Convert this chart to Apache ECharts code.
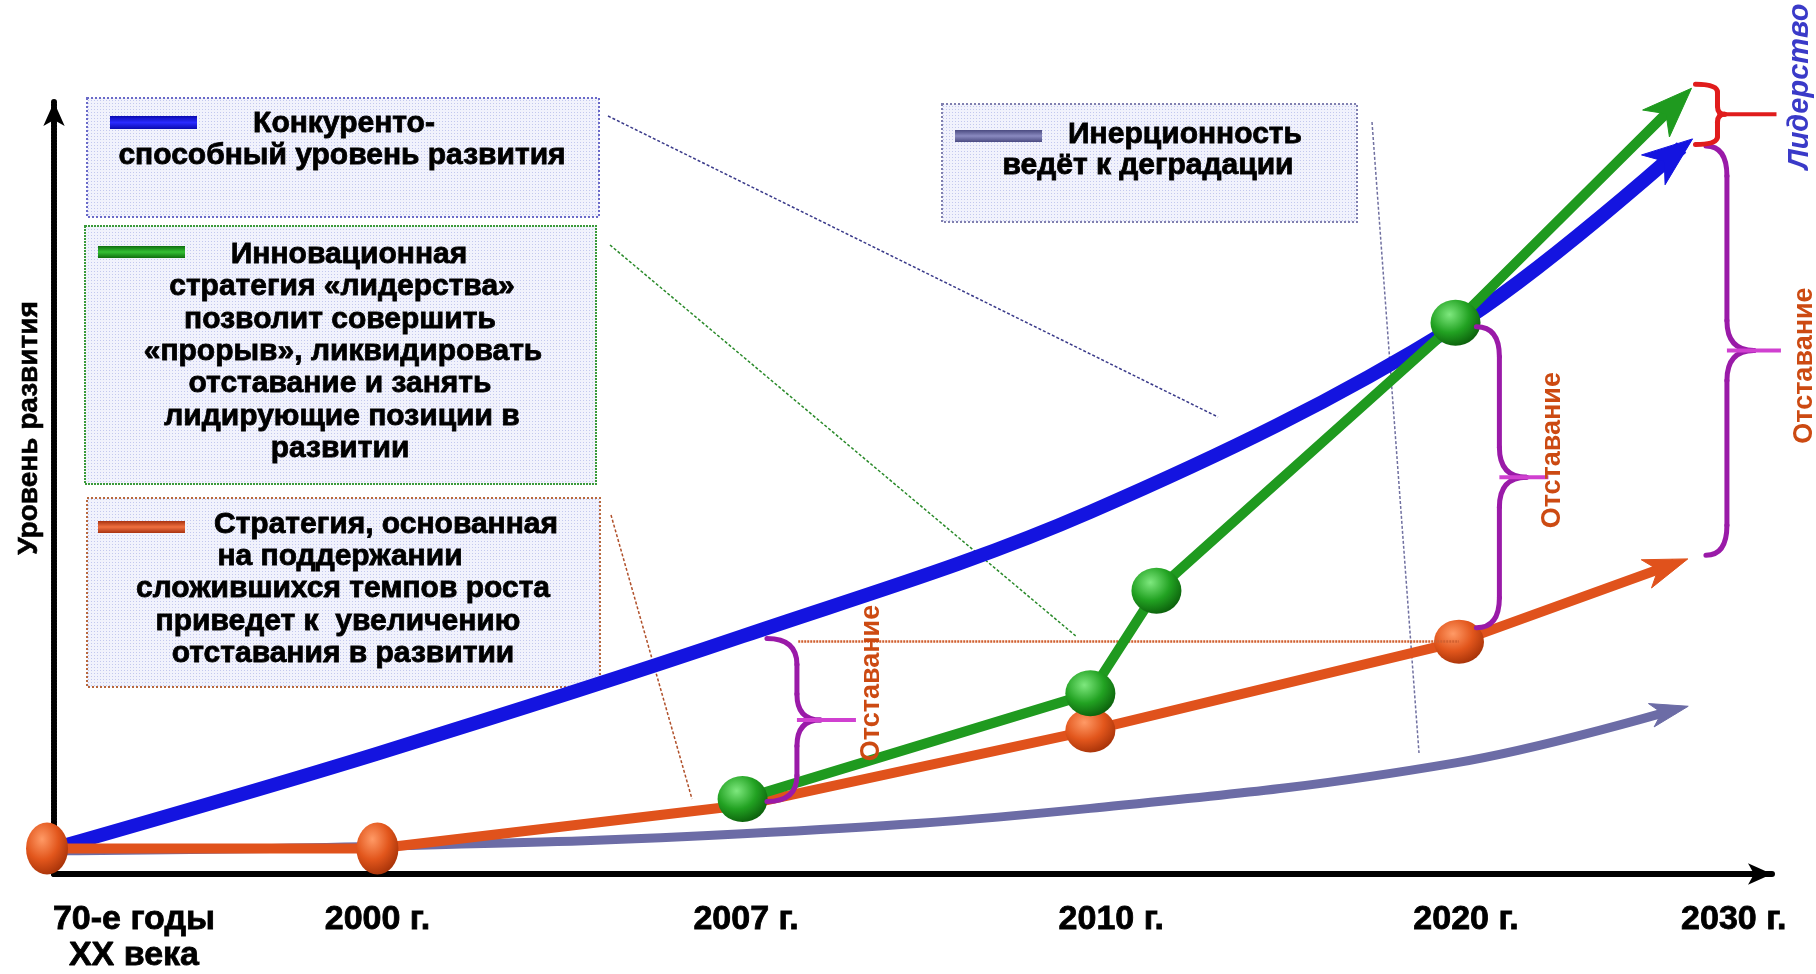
<!DOCTYPE html>
<html>
<head>
<meta charset="utf-8">
<script src="https://cdn.jsdelivr.net/npm/echarts@6/dist/echarts.min.js"></script>
<style>html,body{margin:0;padding:0;background:#fff}#main{width:1816px;height:974px}</style>
</head>
<body>
<div id="main"></div>
<script>
// подписи оси времени
var tickPos = [0.23, 0.93, 1.99, 3.04, 4.06, 4.83];
var tickLabels = ['70-е годы\nXX века', '2000 г.', '2007 г.', '2010 г.', '2020 г.', '2030 г.'];

// конкурентоспособный уровень развития (синяя)
var blueX = [0, 0.93, 1.98, 2.98, 4.03, 4.68];
var blueY = [3.3, 15.6, 30.8, 46.9, 71.0, 94.1];
// инновационная стратегия (зелёная)
var greenX = [1.98, 2.98, 3.17, 4.03, 4.68];
var greenY = [9.7, 23.4, 36.7, 71.4, 100.5];
var greenBalls = [0, 1, 2, 3];
// поддержание темпов роста (оранжевая)
var orangeX = [-0.02, 0.93, 1.98, 2.98, 4.04, 4.66];
var orangeY = [3.3, 3.3, 8.9, 18.6, 30.1, 40.2];
var orangeBalls = [0, 1, 3, 4];
// инерционность (серая)
var greyX = [0, 0.93, 1.98, 2.98, 4.03, 4.66];
var greyY = [3.0, 3.6, 5.2, 8.5, 14.4, 21.3];

// скобки: x, верх, низ, подпись
var braceX = [2.05, 4.09, 4.75, 4.72];
var braceTop = [30.5, 70.9, 94.3, 102.3];
var braceBot = [9.4, 31.9, 41.3, 94.5];
var braceText = ['Отставание', 'Отставание', 'Отставание', 'Лидерство'];
var lagStartX = 2.14;

var FONT = '"Liberation Sans", Arial, sans-serif';
var C_BLUE = '#1414e0', C_GREEN = '#1f9a1f', C_ORANGE = '#e0521c', C_GREY = '#6c6ca6';

function ball(c0, c1, c2) {
    return {type: 'radial', x: 0.38, y: 0.32, r: 0.72,
        colorStops: [{offset: 0, color: c0}, {offset: 0.55, color: c1}, {offset: 1, color: c2}]};
}
function pts(xs, ys, balls) {
    return xs.map(function (x, i) {
        return {value: [x, ys[i]], symbol: balls && balls.indexOf(i) >= 0 ? 'circle' : 'none'};
    });
}
function last2(xs, ys) {
    var n = xs.length;
    return [xs[n - 2], ys[n - 2], xs[n - 1], ys[n - 1]];
}

// узор фона врезок
var pat = document.createElement('canvas');
pat.width = 3; pat.height = 3;
var pctx = pat.getContext('2d');
pctx.fillStyle = '#f1f2fc'; pctx.fillRect(0, 0, 3, 3);
pctx.fillStyle = '#c3c8ee'; pctx.fillRect(1, 1, 1, 1);

var myChart = echarts.init(document.getElementById('main'));

var arrowStyle = [
    {color: C_BLUE, len: 50, wid: 38},
    {color: C_GREEN, len: 50, wid: 38},
    {color: C_ORANGE, len: 44, wid: 30},
    {color: C_GREY, len: 38, wid: 24}
];
var braceStyle = [
    {vx: 30, tx: 89, r: 26, color: '#9a1aa8', tdx: 16, tdy: -37, tc: '#cc4a12', italic: false},
    {vx: 23, tx: 72, r: 30, color: '#9a1aa8', tdx: 4, tdy: -27, tc: '#cc4a12', italic: false},
    {vx: 21, tx: 75, r: 30, color: '#9a1aa8', tdx: 24, tdy: 15, tc: '#cc4a12', italic: false},
    {vx: 22, tx: 81, r: 8, color: '#e01c1c', tdx: 24, tdy: -28, tc: '#3a3ac8', italic: true}
];

function boxRect(x, y, w, h, border, dash) {
    return {type: 'rect', shape: {x: x, y: y, width: w, height: h}, z: 1,
        style: {fill: {image: pat, repeat: 'repeat'}, stroke: border, lineWidth: 2, lineDash: dash}};
}
function bar(x, y, w, h, c0, c1) {
    return {type: 'rect', shape: {x: x, y: y, width: w, height: h}, z: 2,
        style: {fill: new echarts.graphic.LinearGradient(0, 0, 0, 1,
            [{offset: 0, color: c0}, {offset: 0.5, color: c1}, {offset: 1, color: c0}])}};
}
function txt(s, x, y) {
    return {type: 'text', x: x, y: y, z: 3,
        style: {text: s, font: 'bold 30px ' + FONT, fill: '#000', stroke: '#000', lineWidth: 0.8,
            align: 'center', verticalAlign: 'middle'}};
}
function leader(x1, y1, x2, y2, c) {
    return {type: 'line', shape: {x1: x1, y1: y1, x2: x2, y2: y2}, z: 1,
        style: {stroke: c, lineWidth: 1.5, lineDash: [3, 2]}};
}

var graphics = [
    boxRect(87, 98, 512, 119, '#6a6ac8', [2, 2]),
    boxRect(85, 226, 511, 258, '#3a9a3a', [2, 1]),
    boxRect(87, 498, 513, 189, '#b8683e', [2, 2]),
    boxRect(942, 104, 415, 118, '#8080b0', [2, 2]),
    bar(110, 116, 87, 13, '#0a0ab0', '#2a2aff'),
    bar(98, 246, 87, 12, '#0e6e0e', '#34c034'),
    bar(98, 521, 87, 12, '#a83210', '#f07040'),
    bar(955, 130, 87, 12, '#4a4a80', '#8a8ac0'),
    txt('Конкуренто-', 344, 124),
    txt('способный уровень развития', 342, 156),
    txt('Инновационная', 349, 255),
    txt('стратегия «лидерства»', 342, 287),
    txt('позволит совершить', 340, 320),
    txt('«прорыв», ликвидировать', 343, 352),
    txt('отставание и занять', 340, 384),
    txt('лидирующие позиции в', 342, 417),
    txt('развитии', 340, 449),
    txt('Стратегия, основанная', 386, 525),
    txt('на поддержании', 340, 557),
    txt('сложившихся темпов роста', 343, 589),
    txt('приведет к  увеличению', 338, 622),
    txt('отставания в развитии', 343, 654),
    txt('Инерционность', 1185, 135),
    txt('ведёт к деградации', 1148, 166),
    leader(608, 116, 1218, 417, '#3a3a8a'),
    leader(610, 245, 1077, 637, '#2a8a2a'),
    leader(611, 515, 692, 799, '#b0502a'),
    leader(1372, 122, 1419, 753, '#7070a0'),
    {type: 'text', x: 29, y: 428, rotation: Math.PI / 2, z: 3,
        style: {text: 'Уровень развития', font: 'bold 28px ' + FONT, fill: '#000', stroke: '#000', lineWidth: 0.6,
            align: 'center', verticalAlign: 'middle'}}
];

option = {
    backgroundColor: '#ffffff',
    animation: false,
    grid: {left: 54, right: 44, top: 102, bottom: 94},
    xAxis: {
        type: 'value', min: 0, max: 4.94,
        splitLine: {show: false},
        axisTick: {show: false},
        axisLine: {show: true, symbol: ['none', 'arrow'], symbolSize: [16, 24],
            lineStyle: {color: '#000', width: 6, type: [2, 1]}},
        axisLabel: {
            customValues: tickPos,
            margin: 28,
            lineHeight: 36,
            fontFamily: FONT, fontWeight: 'bold', fontSize: 34, color: '#000',
            textBorderColor: '#000', textBorderWidth: 0.8,
            formatter: function (v) {
                var best = 0;
                for (var i = 1; i < tickPos.length; i++) {
                    if (Math.abs(tickPos[i] - v) < Math.abs(tickPos[best] - v)) best = i;
                }
                return tickLabels[best];
            }
        }
    },
    yAxis: {
        type: 'value', min: 0, max: 100,
        splitLine: {show: false},
        axisTick: {show: false},
        axisLabel: {show: false},
        axisLine: {show: true, symbol: ['none', 'arrow'], symbolSize: [16, 24],
            lineStyle: {color: '#000', width: 6, type: [2, 1]}}
    },
    graphic: graphics,
    series: [
        {
            name: 'Инерционность', type: 'line', z: 2, clip: false, smooth: 0.4,
            data: pts(greyX, greyY),
            lineStyle: {color: C_GREY, width: 9, cap: 'butt'}
        },
        {
            name: 'Конкурентоспособный уровень', type: 'line', z: 3, clip: false, smooth: 0.35,
            data: pts(blueX, blueY),
            lineStyle: {color: C_BLUE, width: 14, cap: 'butt'}
        },
        {
            name: 'Стратегия поддержания', type: 'line', z: 4, clip: false,
            data: pts(orangeX, orangeY, orangeBalls),
            symbolSize: function (v, p) { return p.dataIndex < 2 ? [42, 52] : [50, 44]; },
            itemStyle: {color: ball('#ff9a66', '#e2561c', '#a63208')},
            lineStyle: {color: C_ORANGE, width: 10, cap: 'butt'},
            markLine: {
                silent: true, symbol: 'none', label: {show: false},
                lineStyle: {color: '#d06030', width: 2.5, type: [2, 1]},
                data: [[{coord: [lagStartX, orangeY[4]]}, {coord: [orangeX[4], orangeY[4]]}]]
            }
        },
        {
            name: 'Инновационная стратегия', type: 'line', z: 5, clip: false,
            data: pts(greenX, greenY, greenBalls),
            symbolSize: [50, 46],
            itemStyle: {color: ball('#7ee87e', '#22a222', '#0b5e0b')},
            lineStyle: {color: C_GREEN, width: 10, cap: 'butt'}
        },
        {
            // наконечники стрел
            type: 'custom', z: 6, clip: false,
            data: [last2(blueX, blueY), last2(greenX, greenY), last2(orangeX, orangeY), last2(greyX, greyY)],
            encode: {x: [0, 2], y: [1, 3]},
            renderItem: function (params, api) {
                var a = api.coord([api.value(0), api.value(1)]);
                var b = api.coord([api.value(2), api.value(3)]);
                var st = arrowStyle[params.dataIndex];
                var dx = b[0] - a[0], dy = b[1] - a[1], d = Math.sqrt(dx * dx + dy * dy);
                dx /= d; dy /= d;
                var tip = [b[0] + dx * 14, b[1] + dy * 14];
                var base = [tip[0] - dx * st.len, tip[1] - dy * st.len];
                var notch = [tip[0] - dx * st.len * 0.72, tip[1] - dy * st.len * 0.72];
                var px = -dy * st.wid / 2, py = dx * st.wid / 2;
                return {type: 'polygon', shape: {points: [tip, [base[0] + px, base[1] + py], notch, [base[0] - px, base[1] - py]]},
                    style: {fill: st.color, stroke: st.color, lineWidth: 1}};
            }
        },
        {
            // фигурные скобки «Отставание» / «Лидерство»
            type: 'custom', z: 7, clip: false,
            data: braceX.map(function (x, i) { return [x, braceTop[i], braceBot[i]]; }),
            encode: {x: 0, y: [1, 2]},
            renderItem: function (params, api) {
                var i = params.dataIndex, st = braceStyle[i];
                var t = api.coord([api.value(0), api.value(1)]);
                var b = api.coord([api.value(0), api.value(2)]);
                var x0 = t[0], x1 = x0 + st.vx, x2 = x0 + st.tx;
                var yT = t[1], yB = b[1], yM = (yT + yB) / 2, r = Math.min(st.r, (yB - yT) / 4);
                var ls = {stroke: st.color, lineWidth: 5, fill: null, lineCap: 'round'};
                var tipS = {stroke: i === 3 ? st.color : '#d040d0', lineWidth: 4, fill: null};
                return {type: 'group', children: [
                    {type: 'bezierCurve', shape: {x1: x0, y1: yT, x2: x1, y2: yT + r, cpx1: x1, cpy1: yT}, style: ls},
                    {type: 'line', shape: {x1: x1, y1: yT + r, x2: x1, y2: yM - r}, style: ls},
                    {type: 'bezierCurve', shape: {x1: x1, y1: yM - r, x2: x1 + r * 0.9, y2: yM, cpx1: x1, cpy1: yM}, style: ls},
                    {type: 'bezierCurve', shape: {x1: x1 + r * 0.9, y1: yM, x2: x1, y2: yM + r, cpx1: x1, cpy1: yM}, style: ls},
                    {type: 'line', shape: {x1: x1, y1: yM, x2: x2, y2: yM}, style: tipS},
                    {type: 'line', shape: {x1: x1, y1: yM + r, x2: x1, y2: yB - r}, style: ls},
                    {type: 'bezierCurve', shape: {x1: x1, y1: yB - r, x2: x0, y2: yB, cpx1: x1, cpy1: yB}, style: ls},
                    {type: 'text', x: x2 + st.tdx, y: yM + st.tdy, rotation: Math.PI / 2,
                        style: {text: braceText[i], fill: st.tc, align: 'center', verticalAlign: 'middle',
                            font: (st.italic ? 'italic bold 29px ' : 'bold 27px ') + FONT}}
                ]};
            }
        }
    ]
};
myChart.setOption(option);
</script>
</body>
</html>
